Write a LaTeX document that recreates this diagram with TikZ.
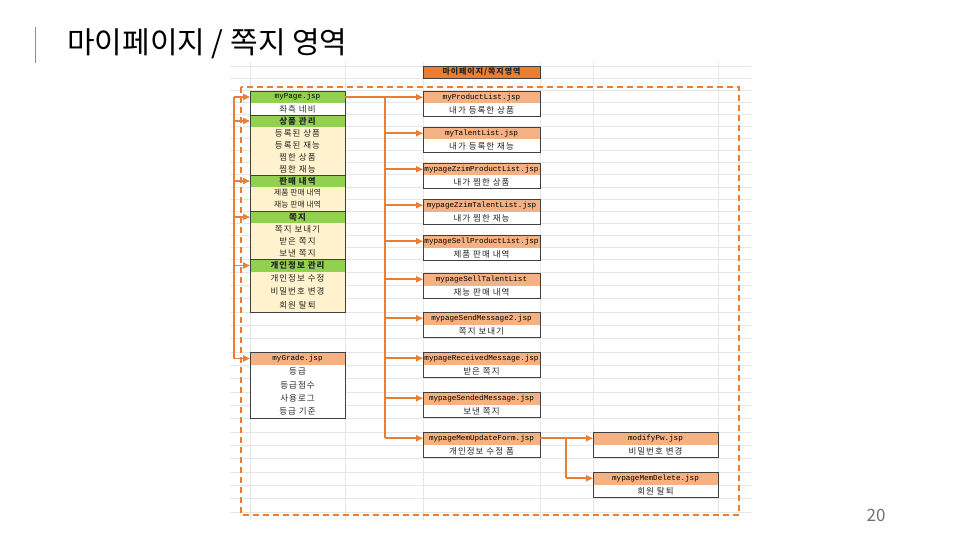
\documentclass[tikz,border=0pt]{standalone}
\usepackage{fontspec}
\setmainfont{Noto Sans CJK KR}
\newfontfamily\krsp{Noto Sans CJK KR}[LetterSpace=12]
\newfontfamily\monof{Liberation Mono}
\usetikzlibrary{arrows.meta}
\definecolor{ora}{HTML}{ED7D31}
\definecolor{grn}{HTML}{92D050}
\definecolor{ylw}{HTML}{FFF2CC}
\definecolor{slm}{HTML}{F4B183}
\definecolor{bdr}{HTML}{404040}
\definecolor{gridc}{HTML}{E6E6E6}
\definecolor{numc}{HTML}{767171}
\tikzset{
  gridline/.style={gridc, line width=1pt},
  cell/.style={anchor=north west, inner sep=0pt, outer sep=0pt, font=\krsp\fontsize{8.5}{9}\selectfont, text=black!85},
  hcell/.style={cell, font=\monof\fontsize{7.6}{8}\selectfont, text=black},
  gcell/.style={cell, fill=grn, draw=bdr, line width=0.8pt, font=\krsp\bfseries\fontsize{8.5}{9}\selectfont},
  boxline/.style={draw=bdr, line width=0.9pt},
  arr/.style={draw=ora, line width=1.6pt, -{Triangle[length=7pt,width=6pt]}},
  oline/.style={draw=ora, line width=1.6pt},
}
\newcommand\jspbox[6]{% name, x, y, width, header, sub
  \node[hcell, fill=slm, minimum width=#4pt, minimum height=12.5pt] (#1) at (#2,#3) {#5};
  \node[cell, fill=white, minimum width=#4pt, minimum height=13pt] (#1s) at (#1.south west) {#6};
  \draw[boxline] (#1.north west) rectangle (#1s.south east);
}
\begin{document}
\begin{tikzpicture}[x=1pt,y=-1pt]
\useasboundingbox (0,0) rectangle (960,540);
\fill[white] (0,0) rectangle (960,540);
% grid
\foreach \y in {67,79,91,103,115,127,139,151,163,175,187,199,211,223,235,247,259,272,285,298,312,325,338,352,365,378,392,405,418,432,445,458,472,485,498,512}
  \draw[gridline] (230,\y) -- (751,\y);
\foreach \x in {250,345,423,540,593,718}
  \draw[gridline] (\x,62) -- (\x,520);
% title
\draw[numc!80, line width=1pt] (35,27) -- (35,63);
\node[anchor=west, inner sep=0pt, font=\fontsize{30}{33}\selectfont] (title) at (67,44) {마이페이지 / 쪽지 영역};
\node[font=\fontsize{17}{20}\selectfont, text=numc] (pnum) at (876,515) {20};
% dashed area
\draw[ora, line width=1.2pt, dash pattern=on 6pt off 4pt] (241,87) rectangle (739,515);
% area title
\node[cell, fill=ora, draw=bdr, line width=0.8pt, minimum width=117pt, minimum height=12pt, font=\krsp\bfseries\fontsize{8}{9}\selectfont] (area) at (423,66) {마이페이지/쪽지영역};
% left column
\node[hcell, fill=grn, draw=bdr, line width=0.8pt, minimum width=95pt, minimum height=12pt] (mypage) at (250,91) {myPage.jsp};
\node[cell, fill=white, minimum width=95pt, minimum height=12pt] (nav) at (250,103) {좌측 네비};
\node[gcell, minimum width=95pt, minimum height=12pt] (g1) at (250,115) {상품 관리};
\node[cell, fill=ylw, minimum width=95pt, minimum height=12pt] (g1a) at (250,127) {등록된 상품};
\node[cell, fill=ylw, minimum width=95pt, minimum height=12pt] (g1b) at (250,139) {등록된 재능};
\node[cell, fill=ylw, minimum width=95pt, minimum height=12pt] (g1c) at (250,151) {찜한 상품};
\node[cell, fill=ylw, minimum width=95pt, minimum height=12pt] (g1d) at (250,163) {찜한 재능};
\node[gcell, minimum width=95pt, minimum height=12pt] (g2) at (250,175) {판매 내역};
\node[cell, fill=ylw, minimum width=95pt, minimum height=12pt, font=\fontsize{7.8}{9}\selectfont] (g2a) at (250,187) {제품 판매 내역};
\node[cell, fill=ylw, minimum width=95pt, minimum height=12pt, font=\fontsize{7.8}{9}\selectfont] (g2b) at (250,199) {재능 판매 내역};
\node[gcell, minimum width=95pt, minimum height=12pt] (g3) at (250,211) {쪽지};
\node[cell, fill=ylw, minimum width=95pt, minimum height=12pt] (g3a) at (250,223) {쪽지 보내기};
\node[cell, fill=ylw, minimum width=95pt, minimum height=12pt] (g3b) at (250,235) {받은 쪽지};
\node[cell, fill=ylw, minimum width=95pt, minimum height=12pt] (g3c) at (250,247) {보낸 쪽지};
\node[gcell, minimum width=95pt, minimum height=13pt] (g4) at (250,259) {개인정보 관리};
\node[cell, fill=ylw, minimum width=95pt, minimum height=13pt] (g4a) at (250,272) {개인정보 수정};
\node[cell, fill=ylw, minimum width=95pt, minimum height=13pt] (g4b) at (250,285) {비밀번호 변경};
\node[cell, fill=ylw, minimum width=95pt, minimum height=14pt] (g4c) at (250,298) {회원 탈퇴};
\draw[boxline] (mypage.north west) rectangle (g4c.south east);
% myGrade
\node[hcell, fill=slm, minimum width=95pt, minimum height=13pt] (grade) at (250,352) {myGrade.jsp};
\node[cell, fill=white, minimum width=95pt, minimum height=13pt] (gr1) at (250,365) {등급};
\node[cell, fill=white, minimum width=95pt, minimum height=14pt] (gr2) at (250,378) {등급점수};
\node[cell, fill=white, minimum width=95pt, minimum height=13pt] (gr3) at (250,392) {사용로그};
\node[cell, fill=white, minimum width=95pt, minimum height=13pt] (gr4) at (250,405) {등급 기준};
\draw[boxline] (grade.north west) rectangle (gr4.south east);
% middle column
\jspbox{p1}{423}{91}{117}{myProductList.jsp}{내가 등록한 상품}
\jspbox{p2}{423}{127}{117}{myTalentList.jsp}{내가 등록한 재능}
\jspbox{p3}{423}{163}{117}{mypageZzimProductList.jsp}{내가 찜한 상품}
\jspbox{p4}{423}{199}{117}{mypageZzimTalentList.jsp}{내가 찜한 재능}
\jspbox{p5}{423}{235}{117}{mypageSellProductList.jsp}{제품 판매 내역}
\jspbox{p6}{423}{273}{117}{mypageSellTalentList}{재능 판매 내역}
\jspbox{p7}{423}{312}{117}{mypageSendMessage2.jsp}{쪽지 보내기}
\jspbox{p8}{423}{352}{117}{mypageReceivedMessage.jsp}{받은 쪽지}
\jspbox{p9}{423}{392}{117}{mypageSendedMessage.jsp}{보낸 쪽지}
\jspbox{p10}{423}{432}{117}{mypageMemUpdateForm.jsp}{개인정보 수정 폼}
% right column
\jspbox{r1}{593}{432}{125}{modifyPw.jsp}{비밀번호 변경}
\jspbox{r2}{593}{472}{125}{mypageMemDelete.jsp}{회원 탈퇴}
% left bracket connectors
\coordinate (lt) at (234,97);
\coordinate (lb) at (234,358.5);
\draw[oline] (lt) -- (lb);
\foreach \t in {mypage,g1,g2,g3,g4,grade}
  \draw[arr] (lt |- \t.west) -- (\t.west);
% middle trunk
\coordinate (mt) at (385,97);
\coordinate (mb) at (385,438.25);
\draw[oline] (mypage.east) -- (mt) -- (mb);
\foreach \t in {p1,p2,p3,p4,p5,p6,p7,p8,p9,p10}
  \draw[arr] (mt |- \t.west) -- (\t.west);
% right branch
\coordinate (rt) at (566,438.25);
\coordinate (rb) at (566,478.25);
\draw[oline] (p10.east) -- (rt) -- (rb);
\draw[arr] (rt) -- (r1.west);
\draw[arr] (rb) -- (r2.west);
\end{tikzpicture}
\end{document}
